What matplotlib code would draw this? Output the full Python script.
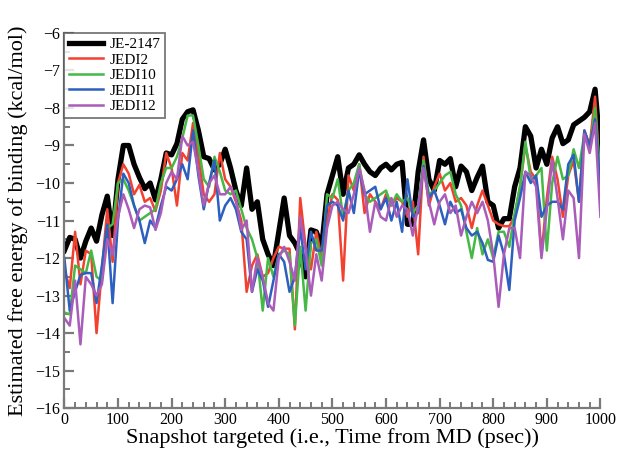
import numpy as np
import matplotlib
matplotlib.use("Agg")
import matplotlib.pyplot as plt
from matplotlib.ticker import MultipleLocator

plt.rcParams['font.family'] = ['Liberation Serif', 'DejaVu Serif']

time_ps = list(range(0, 1001, 10))

je2147 = [-11.8, -11.45, -11.5, -12.0, -11.55, -11.2, -11.55, -10.85, -10.35, -11.4,
          -9.9, -9.0, -9.0, -9.5, -9.85, -10.15, -10.0, -10.45, -9.9, -9.2,
          -9.25, -8.95, -8.3, -8.1, -8.05, -8.6, -9.3, -9.35, -9.65, -9.5,
          -9.1, -9.6, -10.2, -10.6, -9.6, -10.7, -10.5, -11.5, -11.9, -12.2,
          -11.3, -10.4, -11.4, -11.6, -11.9, -12.5, -11.25, -11.3, -11.7, -10.3,
          -9.8, -9.3, -10.3, -9.6, -9.5, -9.25, -9.5, -9.7, -9.8, -9.6,
          -9.5, -9.65, -9.5, -9.45, -11.1, -11.1, -9.7, -8.85, -9.9, -10.2,
          -9.4, -9.5, -9.35, -10.1, -9.55, -9.7, -10.2, -9.85, -9.55, -10.5,
          -10.6, -11.2, -10.95, -10.95, -10.1, -9.6, -8.5, -8.75, -9.6, -9.1,
          -9.5, -8.8, -8.5, -8.95, -8.85, -8.45, -8.35, -8.25, -8.1, -7.5, -9.15]

jedi2 = [-12.3, -12.8, -11.3, -12.7, -11.8, -11.9, -14.0, -12.3, -10.7, -12.1,
         -10.0, -9.5, -9.75, -10.3, -10.05, -10.5, -10.4, -10.75, -10.2, -9.2,
         -9.6, -10.6, -9.2, -9.4, -8.4, -9.3, -10.3, -10.5, -10.3, -9.2,
         -9.9, -10.1, -10.5, -11.0, -12.9, -12.2, -11.9, -12.5, -12.4, -12.0,
         -11.7, -11.75, -11.75, -13.9, -10.4, -11.7, -12.3, -11.3, -12.0, -11.0,
         -10.3, -10.45, -12.6, -9.8, -10.2, -9.5, -10.8, -10.3, -10.5, -10.7,
         -10.3, -10.6, -10.4, -10.5, -10.9, -10.5, -11.9, -9.3, -10.6, -10.1,
         -9.75, -10.2, -10.0, -10.5, -10.4, -10.6, -11.2, -10.6, -10.2, -10.6,
         -11.0, -11.1, -11.15, -11.15, -10.9, -10.1, -9.0, -9.7, -9.9, -11.9,
         -10.4, -9.3, -9.9, -10.9, -9.8, -9.4, -10.5, -8.6, -9.0, -7.7, -10.1]

jedi10 = [-13.45, -13.5, -12.2, -12.3, -12.4, -11.8, -12.5, -12.6, -11.2, -11.1,
          -10.0, -9.9, -10.2, -10.6, -11.0, -10.9, -10.8, -10.7, -10.0, -9.6,
          -9.6, -9.3, -8.8, -8.2, -8.2, -9.0, -9.9, -10.1, -9.3, -9.7,
          -10.2, -10.3, -10.2, -10.7, -11.2, -11.5, -12.0, -13.4, -12.0, -12.5,
          -11.9, -11.8, -11.9, -13.8, -11.7, -13.4, -11.6, -11.5, -12.2, -10.3,
          -10.4, -9.9, -10.9, -10.2, -10.0, -9.5, -10.3, -10.5, -10.4, -10.3,
          -10.2, -10.6, -10.3, -10.5, -10.4, -10.8, -10.6, -9.4, -10.3, -10.2,
          -10.0, -9.8, -9.7, -10.3, -10.6, -11.3, -12.0, -11.2, -11.9, -11.5,
          -12.0, -11.3, -11.3, -11.7, -10.8, -10.1, -8.9, -9.9, -9.8, -9.6,
          -11.8, -10.0, -9.3, -9.9, -9.8, -9.1, -9.6, -8.7, -9.1, -8.0, -9.9]

jedi11 = [-12.0, -13.4, -12.9, -12.45, -12.4, -12.4, -13.2, -12.2, -11.1, -13.2,
          -11.0, -9.75, -10.0, -10.6, -11.0, -11.6, -11.0, -11.2, -10.6, -10.1,
          -10.2, -9.9, -9.5, -9.9, -8.6, -9.8, -10.7, -10.0, -9.4, -11.0,
          -10.6, -10.4, -10.7, -11.3, -11.5, -12.9, -12.3, -12.6, -13.3, -12.6,
          -11.9, -12.1, -12.9, -12.5, -11.2, -12.3, -11.3, -11.8, -11.8, -10.6,
          -10.5, -10.6, -11.0, -10.2, -10.8, -9.65, -10.3, -10.2, -10.1, -10.7,
          -10.4, -11.0, -10.5, -11.3, -9.9, -10.9, -10.8, -9.55, -10.4, -10.2,
          -10.6, -11.1, -10.5, -10.8, -10.7, -11.2, -11.4, -11.3, -11.6, -12.05,
          -12.1, -11.4, -11.9, -12.85, -11.0, -10.4, -9.7, -10.0, -9.8, -10.9,
          -10.6, -10.5, -10.5, -10.7, -9.5, -9.25, -10.5, -8.6, -9.0, -8.3, -10.1]

jedi12 = [-13.6, -13.8, -12.6, -14.3, -12.5, -12.7, -13.0, -12.7, -11.5, -11.9,
          -10.9, -10.3, -10.7, -11.2, -10.7, -10.6, -10.65, -11.25, -10.8, -10.0,
          -9.7, -9.9, -8.75, -9.0, -8.9, -9.7, -10.6, -10.0, -9.8, -10.3,
          -10.3, -10.1, -10.4, -11.25, -11.0, -12.9, -12.0, -12.5, -13.2, -13.4,
          -12.0, -11.7, -12.1, -12.6, -10.9, -11.8, -13.0, -11.9, -12.6, -11.2,
          -10.6, -10.5, -10.7, -10.8, -10.3, -9.6, -10.2, -11.3, -10.5, -10.9,
          -11.0, -10.4, -10.9, -10.6, -10.7, -11.4, -10.6, -9.6, -10.5, -11.1,
          -10.5, -10.3, -10.8, -10.6, -11.4, -10.9, -10.5, -10.8, -10.5, -11.0,
          -11.9, -13.3, -11.9, -11.2, -11.2, -12.0, -9.7, -9.8, -10.1, -12.0,
          -10.7, -9.4, -10.4, -11.5, -10.2, -10.4, -12.0, -8.7, -9.2, -8.4, -10.9]

series_names = ["JE-2147", "JEDI2", "JEDI10", "JEDI11", "JEDI12"]
series_values = [je2147, jedi2, jedi10, jedi11, jedi12]
colors = ["#000000", "#f2412f", "#45b845", "#2d5fbf", "#a95cb8"]
widths = [3.8, 1.8, 1.8, 1.8, 1.8]

fig = plt.figure(figsize=(6.19, 4.51), dpi=100)
ax = fig.add_axes([0.104, 0.095, 0.866, 0.832])

for name, vals, c, w in zip(series_names, series_values, colors, widths):
    ax.plot(time_ps, vals, color=c, lw=w, label=name, solid_joinstyle='round')

ax.set_xlim(0, 1000)
ax.set_ylim(-16, -6)
ax.xaxis.set_major_locator(MultipleLocator(100))
ax.xaxis.set_minor_locator(MultipleLocator(20))
ax.yaxis.set_major_locator(MultipleLocator(1))
ax.yaxis.set_minor_locator(MultipleLocator(0.5))

for s in ['top', 'right']:
    ax.spines[s].set_visible(False)
for s in ['left', 'bottom']:
    ax.spines[s].set_color('#7a7a7a')
    ax.spines[s].set_linewidth(1.6)

ax.tick_params(which='both', direction='in', color='#7a7a7a', labelsize=11.5, pad=3)
ax.tick_params(which='major', length=7, width=1.6)
ax.tick_params(which='minor', length=4, width=1.4)

ax.set_xlabel("Snapshot targeted (i.e., Time from MD (psec))", fontsize=16, labelpad=0)
ax.set_ylabel("Estimated free energy of binding (kcal/mol)", fontsize=16, labelpad=5)

leg = ax.legend(loc='upper left', bbox_to_anchor=(0.0, 1.0), fontsize=11,
                frameon=True, fancybox=False, handlelength=2.2, handletextpad=0.45,
                borderpad=0.3, labelspacing=0.12, borderaxespad=0.0)
leg.get_frame().set_edgecolor('#555555')
leg.get_frame().set_linewidth(1.3)

fig.savefig("out.png", dpi=100)
